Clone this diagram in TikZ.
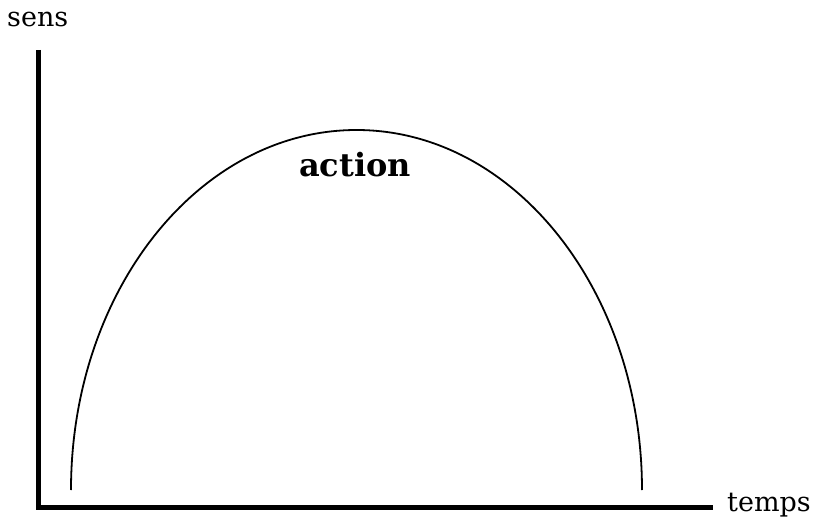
\documentclass[tikz,border=0pt]{standalone}
\usepackage{fontspec}
\setmainfont{DejaVu Serif}
\begin{document}
\begin{tikzpicture}[x=1pt,y=-1pt,
  axis/.style={line width=5pt,line join=miter,line cap=butt},
  curve/.style={line width=1.8pt},
  lbl/.style={font=\fontsize{27}{31}\selectfont,inner sep=0pt}]
\useasboundingbox (0,0) rectangle (815,519);
\coordinate (top) at (38,50);
\coordinate (origin) at (38,507);
\coordinate (xend) at (713,507);
\node[lbl,anchor=base west] (sens) at (7,27) {sens};
\node[lbl,anchor=west] (temps) at (727,505) {temps};
\draw[axis] (top) -- (origin) -- (xend);
\coordinate (cl) at (71,490);
\draw[curve] (cl) arc[start angle=180,end angle=0,x radius=285.5,y radius=-360] coordinate (cr);
\node[font=\fontsize{32}{36}\selectfont\bfseries,inner sep=0pt] (action) at (355,165) {action};
\end{tikzpicture}
\end{document}
